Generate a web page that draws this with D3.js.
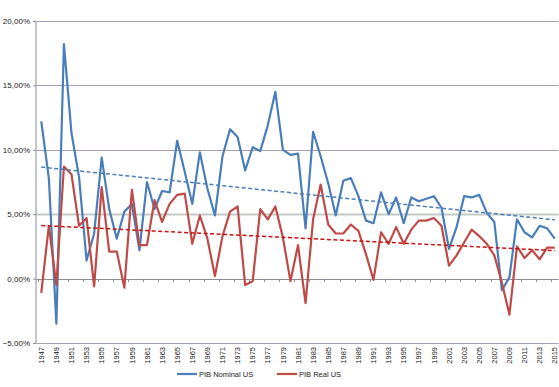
<!DOCTYPE html>
<html>
<head>
<meta charset="utf-8">
<script src="https://cdn.jsdelivr.net/npm/d3@7"></script>
<style>
  body { margin: 0; background: #fff; }
  text { font-family: "Liberation Sans", Arial, sans-serif; fill: #222; }
</style>
</head>
<body>
<div id="chart"></div>
<script>
// categories and values (growth rates, %)
const years = d3.range(1947, 2016);
const nominal = [
  12.2, 7.8, -3.5, 18.2, 11.3, 7.9, 1.4, 3.5, 9.4, 5.4,
  3.1, 5.2, 5.8, 2.2, 7.5, 5.4, 6.8, 6.7, 10.7, 8.3,
  5.8, 9.8, 7.0, 4.9, 9.5, 11.6, 11.0, 8.4, 10.2, 9.9,
  11.9, 14.5, 10.0, 9.6, 9.7, 3.9, 11.4, 9.5, 7.4, 4.9,
  7.6, 7.8, 6.4, 4.5, 4.3, 6.7, 5.0, 6.3, 4.3, 6.3,
  6.0, 6.2, 6.4, 5.5, 2.3, 4.0, 6.4, 6.3, 6.5, 5.1,
  4.4, -0.9, 0.1, 4.6, 3.6, 3.2, 4.1, 3.9, 3.1
];
const real = [
  -1.1, 4.1, -0.5, 8.7, 8.1, 4.1, 4.7, -0.6, 7.1, 2.1,
  2.1, -0.7, 6.9, 2.6, 2.6, 6.1, 4.4, 5.8, 6.5, 6.6,
  2.7, 4.9, 3.1, 0.2, 3.3, 5.2, 5.6, -0.5, -0.2, 5.4,
  4.6, 5.6, 3.2, -0.2, 2.6, -1.9, 4.6, 7.3, 4.2, 3.5,
  3.5, 4.2, 3.7, 1.9, -0.1, 3.6, 2.7, 4.0, 2.7, 3.8,
  4.5, 4.5, 4.7, 4.1, 1.0, 1.8, 2.8, 3.8, 3.3, 2.7,
  1.8, -0.3, -2.8, 2.5, 1.6, 2.2, 1.5, 2.4, 2.4
];
const yTicks = [-5, 0, 5, 10, 15, 20];
const seriesNames = ['PIB Nominal US', 'PIB Real US'];

const width = 559, height = 387;
const plot = {left: 37.5, right: 558.5, top: 21, bottom: 343};

const svg = d3.select('#chart').append('svg')
    .attr('width', width)
    .attr('height', height);

const x = d3.scaleBand()
    .domain(years)
    .range([plot.left, plot.right])
    .padding(0);
const cx = (yr) => x(yr) + x.bandwidth() / 2;

const y = d3.scaleLinear()
    .domain([-5, 20])
    .range([plot.bottom, plot.top]);

const locale = d3.formatLocale({decimal: ',', thousands: '.', grouping: [3], currency: ['', '']});
const fmt = locale.format('.2f');

// gridlines
const grid = svg.append('g');
grid.selectAll('line')
    .data(yTicks)
    .enter()
    .append('line')
        .attr('x1', plot.left - 1)
        .attr('x2', plot.right)
        .attr('y1', d => Math.round(y(d)) + 0.5)
        .attr('y2', d => Math.round(y(d)) + 0.5)
        .attr('stroke', d => d === 5 ? '#c4cbc4' : (d === 0 ? '#8c8c96' : '#a99cb6'))
        .attr('stroke-width', d => d === 5 ? 2 : 1);

// y axis line + labels
svg.append('line')
    .attr('x1', plot.left - 1.5).attr('x2', plot.left - 1.5)
    .attr('y1', plot.top).attr('y2', plot.bottom + 0.5)
    .attr('stroke', '#8c8c96');

const yAxis = d3.axisLeft(y)
    .tickValues(yTicks)
    .tickSize(3)
    .tickPadding(3)
    .tickFormat(d => fmt(d) + '%');
const yAxisG = svg.append('g')
    .attr('transform', `translate(${plot.left - 1.5},0)`)
    .call(yAxis);
yAxisG.select('.domain').remove();
yAxisG.selectAll('line').attr('stroke', '#8c8c96');
yAxisG.selectAll('text')
    .style('font-family', '"Liberation Sans", Arial, sans-serif')
    .style('font-size', '8px')
    .attr('fill', '#222');

// tick marks on the zero line, every second category
const tickYears = years.filter((d, i) => i % 2 === 0);
svg.append('g').selectAll('line')
    .data(tickYears)
    .enter()
    .append('line')
        .attr('x1', d => Math.round(x(d)) + 0.5)
        .attr('x2', d => Math.round(x(d)) + 0.5)
        .attr('y1', Math.round(y(0)))
        .attr('y2', Math.round(y(0)) + 3)
        .attr('stroke', '#8c8c96');

// x labels at the bottom, rotated
const xAxis = d3.axisBottom(x)
    .tickValues(tickYears)
    .tickSize(0)
    .tickPadding(0);
const xAxisG = svg.append('g')
    .attr('transform', `translate(0,${plot.bottom + 4})`)
    .call(xAxis);
xAxisG.select('.domain').remove();
xAxisG.selectAll('text')
    .attr('transform', 'rotate(-90)')
    .attr('text-anchor', 'end')
    .attr('x', 0)
    .attr('y', 0)
    .attr('dy', '0.35em')
    .style('font-family', '"Liberation Sans", Arial, sans-serif')
    .style('font-size', '7.5px')
    .attr('fill', '#222');

// series
const colors = ['#4a7ebb', '#be4b48'];
const trendColors = ['#4a7ebb', '#cc1111'];
const series = [nominal, real];

const line = d3.line()
    .x((d, i) => cx(years[i]))
    .y(d => y(d));

// least squares trend
function trend(vals) {
  const n = vals.length;
  const xm = d3.mean(vals, (d, i) => i);
  const ym = d3.mean(vals);
  let sxy = 0, sxx = 0;
  vals.forEach((v, i) => { sxy += (i - xm) * (v - ym); sxx += (i - xm) * (i - xm); });
  const b = sxy / sxx;
  const a = ym - b * xm;
  return [[0, a], [n - 1, a + b * (n - 1)]];
}

series.forEach((vals, k) => {
  svg.append('path')
      .datum(vals)
      .attr('d', line)
      .attr('fill', 'none')
      .attr('stroke', colors[k])
      .attr('stroke-width', 2.2)
      .attr('stroke-linejoin', 'round');
});

series.forEach((vals, k) => {
  const t = trend(vals);
  svg.append('line')
      .attr('x1', cx(years[t[0][0]]))
      .attr('x2', cx(years[t[1][0]]))
      .attr('y1', y(t[0][1]))
      .attr('y2', y(t[1][1]))
      .attr('stroke', trendColors[k])
      .attr('stroke-width', 1.5)
      .attr('stroke-dasharray', '4,2.5');
});

// legend
const legendX = [177, 277];
const legend = svg.append('g');
seriesNames.forEach((name, k) => {
  legend.append('line')
      .attr('x1', legendX[k]).attr('x2', legendX[k] + 20)
      .attr('y1', 374).attr('y2', 374)
      .attr('stroke', colors[k])
      .attr('stroke-width', 2.2);
  legend.append('text')
      .attr('x', legendX[k] + 22)
      .attr('y', 376.5)
      .style('font-size', '7.5px')
      .text(name);
});
</script>
</body>
</html>
